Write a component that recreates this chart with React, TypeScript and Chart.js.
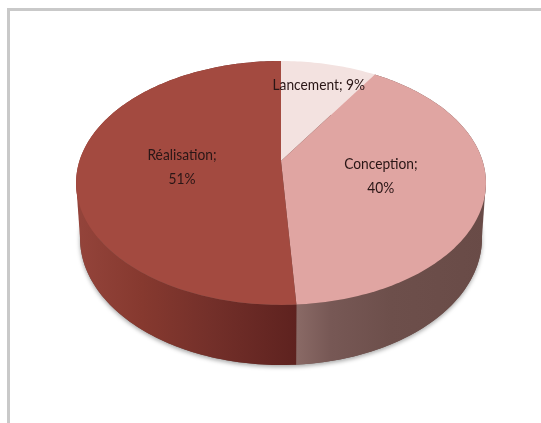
import React, { useEffect, useRef } from "react";
import { Chart, registerables } from "chart.js";

Chart.register(...registerables);

const categories = ["Lancement", "Conception", "Réalisation"];
const shares = [9, 40, 51];
const faceColors = ["#f3e2e0", "#e0a5a2", "#a34a40"];
const wallStops: [number, string][][] = [
  [[0, "#f3e2e0"], [1, "#f3e2e0"]],
  [[0, "#8a6a66"], [0.18, "#775855"], [0.5, "#6d4f4b"], [1, "#694b47"]],
  [[0, "#94443b"], [0.3, "#86392f"], [0.6, "#74302a"], [1, "#5e221f"]],
];
const labelLines = [["Lancement; 9%"], ["Conception;", "40%"], ["Réalisation;", "51%"]];
const labelReach = [0.76, 0.5, 0.49];
const labelDrop = [0, 0, 4];

type Plane = { a: number; b: number; c: number; k: number };
type Pt = [number, number];

// Perspective planes of the disc: the upper face and its lower rim.
const CX = 281;
const TOP_PLANE: Plane = { a: 201.6, b: 89, c: 161, k: -0.18 };
const BOTTOM_PLANE: Plane = { a: 197.7, b: 84.2, c: 215.1, k: -0.18 };

function project(p: Plane, angle: number, r = 1): Pt {
  const u = Math.cos(angle) * r;
  const v = Math.sin(angle) * r;
  const d = 1 + p.k * v;
  return [CX + (p.a * u) / d, (p.b * v + p.c) / d];
}

function rimPoints(p: Plane, from: number, to: number): Pt[] {
  const steps = Math.max(2, Math.ceil(Math.abs(to - from) / 0.02));
  const pts: Pt[] = [];
  for (let i = 0; i <= steps; i++) pts.push(project(p, from + ((to - from) * i) / steps));
  return pts;
}

function tracePolygon(ctx: CanvasRenderingContext2D, pts: Pt[]) {
  ctx.beginPath();
  pts.forEach((pt, j) => (j ? ctx.lineTo(pt[0], pt[1]) : ctx.moveTo(pt[0], pt[1])));
  ctx.closePath();
}

// Picks the point of a rim that lies furthest along x in the given direction.
function extreme(pts: Pt[], dir: number): Pt {
  return pts.reduce((best, pt) => (pt[0] * dir > best[0] * dir ? pt : best), pts[0]);
}

const disc3d = {
  id: "disc3d",
  beforeDatasetDraw(chart: any) {
    const ctx: CanvasRenderingContext2D = chart.ctx;
    const arcs = chart.getDatasetMeta(0).data;

    // Soft shadow under the lower rim.
    ctx.save();
    ctx.shadowColor = "rgba(0,0,0,0.35)";
    ctx.shadowBlur = 4;
    ctx.shadowOffsetY = 2;
    ctx.fillStyle = "#6b4e49";
    tracePolygon(ctx, rimPoints(BOTTOM_PLANE, 0, Math.PI * 2));
    ctx.fill();
    ctx.restore();

    // Outer wall: each slice's front rim swept down to the lower plane.
    arcs.forEach((arc: any, i: number) => {
      const top = rimPoints(TOP_PLANE, arc.startAngle, arc.endAngle);
      const bottom = rimPoints(BOTTOM_PLANE, arc.endAngle, arc.startAngle);
      const visible = top.filter((pt) => pt[1] > 160);
      if (!visible.length) return;
      const xs = visible.map((pt) => pt[0]);
      const grad = ctx.createLinearGradient(Math.min(...xs), 0, Math.max(...xs), 0);
      wallStops[i].forEach(([pos, color]) => grad.addColorStop(pos, color));
      ctx.fillStyle = grad;
      tracePolygon(ctx, [...top, ...bottom]);
      ctx.fill();

      // Tangent strip where the wall's silhouette joins the two rims.
      [-1, 1].forEach((dir) => {
        const a = extreme(top, dir);
        const b = extreme(bottom, dir);
        if (Math.abs(a[0] - CX) < 190) return;
        tracePolygon(ctx, [a, b, [b[0] - dir * 30, b[1]], [a[0] - dir * 30, a[1]]]);
        ctx.fill();
      });
    });

    // Upper face.
    arcs.forEach((arc: any, i: number) => {
      const apex = project(TOP_PLANE, 0, 0);
      tracePolygon(ctx, [apex, ...rimPoints(TOP_PLANE, arc.startAngle, arc.endAngle)]);
      ctx.fillStyle = faceColors[i];
      ctx.fill();
    });

    // Slice captions, set slightly condensed.
    ctx.fillStyle = "#2a1616";
    ctx.font = '16px Lato, "Liberation Sans", sans-serif';
    ctx.textAlign = "center";
    ctx.textBaseline = "middle";
    arcs.forEach((arc: any, i: number) => {
      const mid = (arc.startAngle + arc.endAngle) / 2;
      const [x, y] = project(TOP_PLANE, mid, labelReach[i]);
      const lines = labelLines[i];
      lines.forEach((line, j) => {
        ctx.save();
        ctx.translate(x, y + labelDrop[i] + (j - (lines.length - 1) / 2) * 24);
        ctx.scale(0.86, 1);
        ctx.fillText(line, 0, 0);
        ctx.restore();
      });
    });
    return false;
  },
};

export default function App() {
  const ref = useRef<HTMLCanvasElement>(null);

  useEffect(() => {
    if (!ref.current) return;
    const chart = new Chart(ref.current, {
      type: "pie",
      data: {
        labels: categories,
        datasets: [{ data: shares, backgroundColor: faceColors, borderWidth: 0 }],
      },
      options: {
        responsive: false,
        animation: false,
        plugins: { legend: { display: false }, tooltip: { enabled: false } },
      },
      plugins: [disc3d],
    });
    return () => chart.destroy();
  }, []);

  return (
    <div style={{ position: "fixed", inset: 0, overflow: "hidden", background: "#fff" }}>
      <div
        style={{
          position: "absolute",
          left: 7,
          top: 8,
          width: 600,
          height: 500,
          border: "3px solid #c9c9c9",
          boxSizing: "border-box",
        }}
      />
      <canvas ref={ref} width={541} height={423} style={{ position: "absolute", left: 0, top: 0 }} />
    </div>
  );
}
